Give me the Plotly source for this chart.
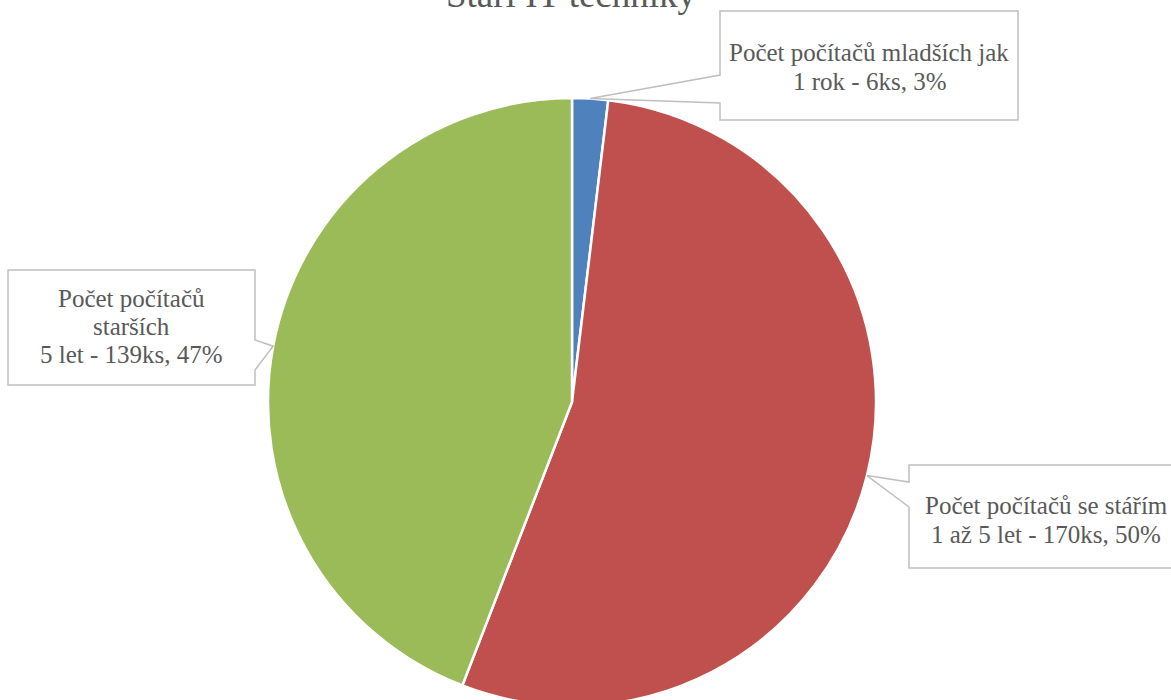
import math
import plotly.graph_objects as go

# ---- data ----
categories = [
    "Počet počítačů mladších jak 1 rok",
    "Počet počítačů se stářím 1 až 5 let",
    "Počet počítačů starších 5 let",
]
counts = [6, 170, 139]
label_lines = [
    ["Počet počítačů mladších jak", "1 rok - 6ks, 3%"],
    ["Počet počítačů se stářím", "1 až 5 let - 170ks, 50%"],
    ["Počet počítačů", "starších", "5 let - 139ks, 47%"],
]
title_text = "Stáří IT techniky"
colors = ["#4F81BD", "#C0504D", "#9BBB59"]

# ---- layout constants (pixels) ----
W, H = 1171, 712
CX, CY, R = 572, 402, 304
TEXT_COLOR = "#595959"
BORDER = "#BFBFBF"
FONT = "Liberation Serif"
FS = 25

# callout boxes: (x0, y0, x1, y1, pointer side, pointer base y1, y2, text center x, baselines)
boxes = [
    (720, 11, 1018, 120, "left", 75, 103, 869, [61, 90]),
    (909, 465, 1190, 568, "left", 482, 507, 1046, [514, 543]),
    (8, 270, 255, 385, "right", 340, 370, 131.5, [307, 335, 363]),
]


def px(x):
    return x / W


def py(y):
    return 1 - y / H


fig = go.Figure()
fig.add_trace(go.Pie(
    labels=categories,
    values=counts,
    sort=False,
    direction="clockwise",
    rotation=0,
    marker=dict(colors=colors, line=dict(color="white", width=2.5)),
    textinfo="none",
    hoverinfo="label+value+percent",
    showlegend=False,
    domain=dict(x=[px(CX - R), px(CX + R)], y=[py(CY + R), py(CY - R)]),
))

total = sum(counts)
shapes = []
annotations = []
cum = 0
for i, v in enumerate(counts):
    mid = (cum + v / 2) / total * 2 * math.pi
    cum += v
    tx = CX + R * math.sin(mid)
    ty = CY - R * math.cos(mid)
    x0, y0, x1, y1, side, b1, b2, tcx, baselines = boxes[i]
    if side == "left":
        pts = [(x0, y0), (x1, y0), (x1, y1), (x0, y1), (x0, b2), (tx, ty), (x0, b1)]
    else:
        pts = [(x0, y0), (x1, y0), (x1, b1), (tx, ty), (x1, b2), (x1, y1), (x0, y1)]
    path = "M " + " L ".join(f"{px(a):.5f},{py(b):.5f}" for a, b in pts) + " Z"
    shapes.append(dict(type="path", path=path, xref="paper", yref="paper",
                       fillcolor="white", line=dict(color=BORDER, width=1.5),
                       layer="above"))
    for line, bl in zip(label_lines[i], baselines):
        annotations.append(dict(
            text=line, x=px(tcx), y=py(bl - 0.33 * FS), xref="paper", yref="paper",
            xanchor="center", yanchor="middle", showarrow=False,
            font=dict(family=FONT, size=FS, color=TEXT_COLOR)))

annotations.append(dict(
    text=title_text, x=px(571), y=py(7 - 0.33 * 37), xref="paper", yref="paper",
    xanchor="center", yanchor="middle", showarrow=False,
    font=dict(family=FONT, size=37, color=TEXT_COLOR)))

fig.update_layout(
    width=W, height=H,
    margin=dict(l=0, r=0, t=0, b=0),
    paper_bgcolor="white", plot_bgcolor="white",
    shapes=shapes, annotations=annotations,
)

fig.write_html("out.html",
               config={"displayModeBar": False},
               post_script="document.body.style.margin='0';document.body.style.overflow='hidden';")
